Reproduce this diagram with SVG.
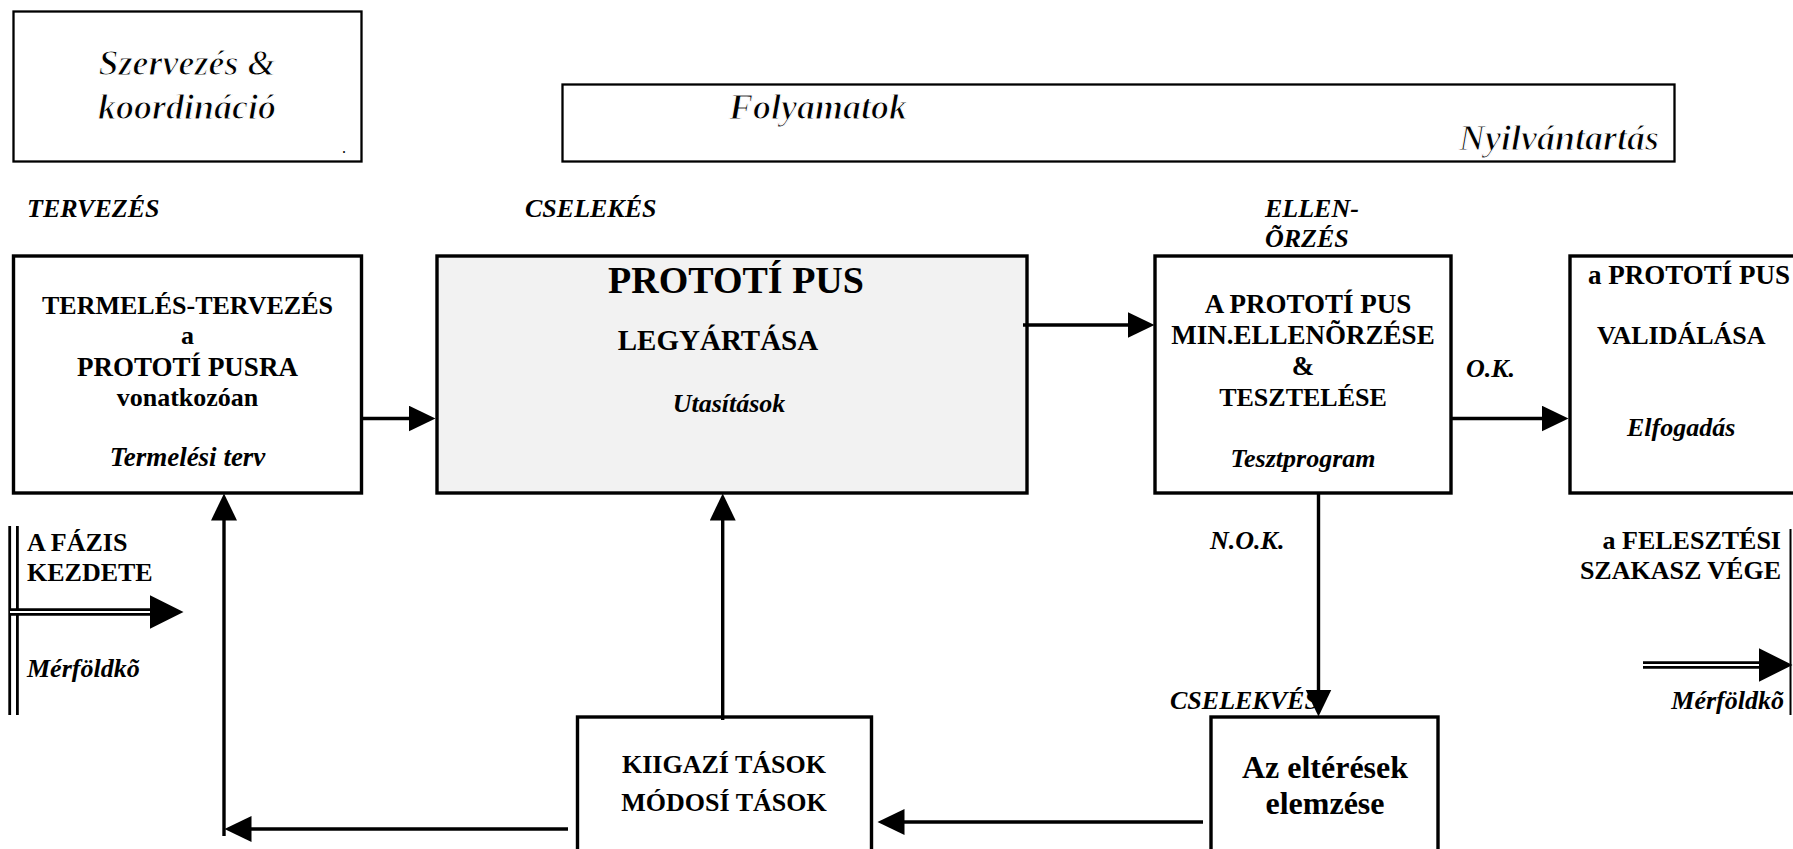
<svg xmlns="http://www.w3.org/2000/svg" width="1793" height="849" viewBox="0 0 1793 849">
  <style>
    text { font-family: "Liberation Serif", "Times New Roman", serif; fill: #000; }
    /* header captions: bold italic face, trimmed with a white outline for a lighter stroke */
    .big { font-size: 36px; font-style: italic; font-weight: bold; stroke: #fff; stroke-width: 1.1; }
    .b { font-weight: bold; font-size: 26px; }
    .bi { font-weight: bold; font-style: italic; font-size: 26px; }
    .mid { text-anchor: middle; }
    .end { text-anchor: end; }
    .thin { fill: #fff; stroke: #000; stroke-width: 2.3; }
    .box { fill: #fff; stroke: #000; stroke-width: 3.4; }
    .shade { fill: #f2f2f2; }
    .flow { fill: none; stroke: #000; stroke-width: 3.4; marker-end: url(#head); }
    .rail { stroke: #000; stroke-width: 2.8; }
    .gap { stroke: #fff; stroke-width: 2.2; marker-end: url(#headBig); }
  </style>
  <defs>
    <marker id="head" markerUnits="userSpaceOnUse" markerWidth="28" markerHeight="28" refX="0.5" refY="13" orient="auto">
      <path d="M0,0 L27,13 L0,26 Z" fill="#000"/>
    </marker>
    <marker id="headBig" markerUnits="userSpaceOnUse" markerWidth="36" markerHeight="36" refX="0.5" refY="17" orient="auto">
      <path d="M0,0 L34,17 L0,34 Z" fill="#000"/>
    </marker>
  </defs>

  <!-- header boxes -->
  <g id="szervezes">
    <rect class="thin" x="13.5" y="11.5" width="348" height="150"/>
    <text class="big mid" x="187" y="75">Szervezés &amp;</text>
    <text class="big mid" x="187" y="119">koordináció</text>
    <text x="342" y="153" style="font-size:16px">.</text>
  </g>
  <g id="folyamatok">
    <rect class="thin" x="562.5" y="84.5" width="1112" height="77"/>
    <text class="big" x="729" y="119">Folyamatok</text>
    <text class="big end" x="1659" y="150">Nyilvántartás</text>
  </g>

  <!-- phase labels -->
  <g id="labels">
    <text class="bi" x="27" y="217">TERVEZÉS</text>
    <text class="bi" x="525" y="217">CSELEKÉS</text>
    <text class="bi" x="1265" y="217">ELLEN-</text>
    <text class="bi" x="1265" y="247">ÕRZÉS</text>
    <text class="bi" x="1466" y="377">O.K.</text>
    <text class="bi" x="1210" y="549">N.O.K.</text>
    <text class="bi" x="1170" y="709">CSELEKVÉS</text>
  </g>

  <!-- process nodes -->
  <g id="termeles">
    <rect class="box" x="13.5" y="256" width="348" height="237"/>
    <text class="b mid" x="187.5" y="314">TERMELÉS-TERVEZÉS</text>
    <text class="b mid" x="187.5" y="344">a</text>
    <text class="b mid" x="187.5" y="376" style="font-size:27px">PROTOTÍ PUSRA</text>
    <text class="b mid" x="187.5" y="406">vonatkozóan</text>
    <text class="bi mid" x="187.5" y="466" style="font-size:27px">Termelési terv</text>
  </g>
  <g id="legyartas">
    <rect class="box shade" x="437" y="256" width="590" height="237"/>
    <text class="b mid" x="736" y="293" style="font-size:38px">PROTOTÍ PUS</text>
    <text class="b mid" x="718" y="350" style="font-size:29px">LEGYÁRTÁSA</text>
    <text class="bi mid" x="729" y="412">Utasítások</text>
  </g>
  <g id="ellenorzes">
    <rect class="box" x="1155" y="256" width="296" height="237"/>
    <text class="b mid" x="1308" y="313" style="font-size:27px">A PROTOTÍ PUS</text>
    <text class="b mid" x="1303" y="344" style="font-size:27px">MIN.ELLENÕRZÉSE</text>
    <text class="b mid" x="1303" y="375" style="font-size:27px">&amp;</text>
    <text class="b mid" x="1303" y="406">TESZTELÉSE</text>
    <text class="bi mid" x="1303" y="467">Tesztprogram</text>
  </g>
  <g id="validalas">
    <rect class="box" x="1570" y="256" width="240" height="237"/>
    <text class="b" x="1588" y="284" style="font-size:27px">a PROTOTÍ PUS</text>
    <text class="b" x="1597" y="344">VALIDÁLÁSA</text>
    <text class="bi" x="1627" y="436">Elfogadás</text>
  </g>
  <g id="kiigazitasok">
    <rect class="box" x="577.5" y="717" width="294" height="150"/>
    <text class="b mid" x="724" y="773">KIIGAZÍ TÁSOK</text>
    <text class="b mid" x="724" y="811">MÓDOSÍ TÁSOK</text>
  </g>
  <g id="elemzes">
    <rect class="box" x="1211" y="717" width="227" height="150"/>
    <text class="b mid" x="1325" y="778" style="font-size:32px">Az eltérések</text>
    <text class="b mid" x="1325" y="814" style="font-size:32px">elemzése</text>
  </g>

  <!-- phase start milestone -->
  <g id="fazis-kezdete">
    <line class="rail" x1="9.7" y1="526" x2="9.7" y2="715"/>
    <line class="rail" x1="17.4" y1="526" x2="17.4" y2="715"/>
    <line x1="9" y1="612" x2="152" y2="612" stroke="#000" stroke-width="7.6"/>
    <line class="gap" x1="10" y1="612" x2="150" y2="612"/>
    <text class="b" x="27" y="551">A FÁZIS</text>
    <text class="b" x="27" y="581">KEZDETE</text>
    <text class="bi" x="27" y="677">Mérföldkõ</text>
  </g>

  <!-- phase end milestone -->
  <g id="szakasz-vege">
    <line x1="1790.5" y1="529" x2="1790.5" y2="715" stroke="#000" stroke-width="2"/>
    <line x1="1643" y1="665" x2="1761" y2="665" stroke="#000" stroke-width="7.6"/>
    <line class="gap" x1="1643" y1="665" x2="1759" y2="665"/>
    <text class="b end" x="1781" y="549">a FELESZTÉSI</text>
    <text class="b end" x="1781" y="579">SZAKASZ VÉGE</text>
    <text class="bi end" x="1784" y="709">Mérföldkõ</text>
  </g>

  <!-- connectors -->
  <g id="connectors">
    <path class="flow" d="M361,418.5 H409"/>
    <path class="flow" d="M1023,325 H1128"/>
    <path class="flow" d="M1451,418.5 H1542"/>
    <path class="flow" d="M1318.5,493 V690"/>
    <path class="flow" d="M1203,822 H904"/>
    <path class="flow" d="M722.7,720 V520"/>
    <path class="flow" d="M568,829 H251"/>
    <path class="flow" d="M224,836 V520"/>
  </g>
</svg>
